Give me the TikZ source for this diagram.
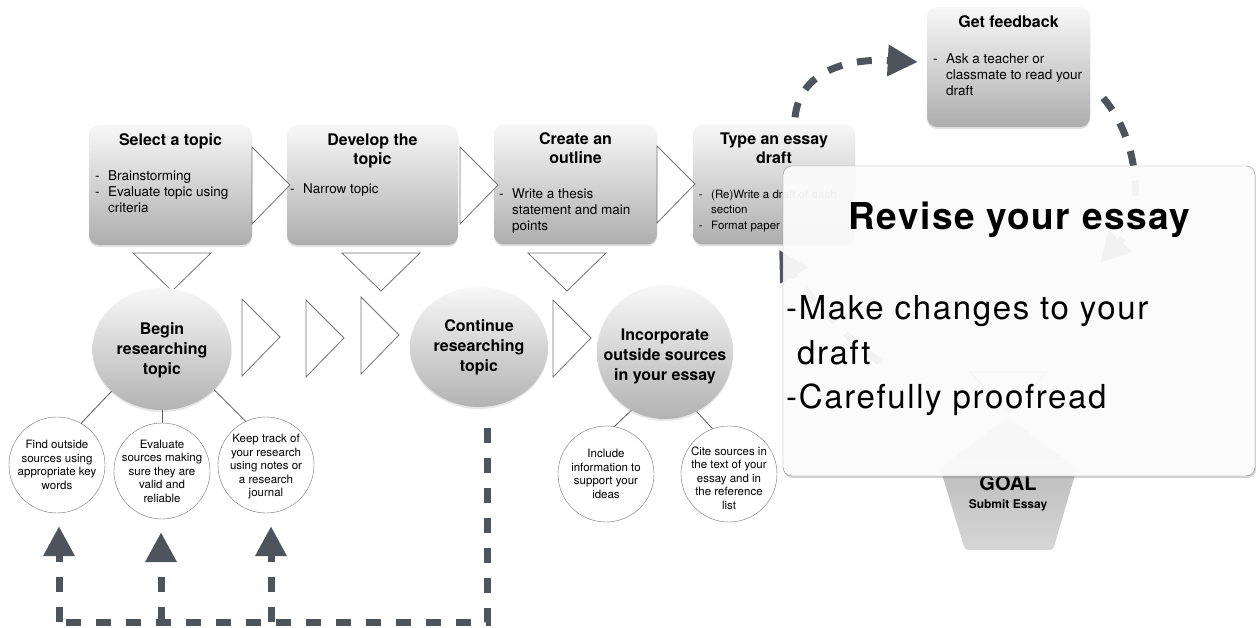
\documentclass[tikz,border=0pt]{standalone}
\usepackage{fontspec}
\setmainfont{TeX Gyre Heros}
\usetikzlibrary{shapes.geometric,shadows,arrows.meta}
\definecolor{dashgray}{RGB}{78,84,92}
\tikzset{
  stepbox/.style={rounded corners=10pt,top color=black!3,bottom color=black!32,draw=none,
    minimum height=120pt,inner sep=0pt,
    drop shadow={opacity=0.25,shadow xshift=0pt,shadow yshift=-2pt}},
  ttl/.style={font=\fontsize{16}{19}\selectfont\bfseries,align=center,anchor=north,inner sep=0pt},
  body/.style={font=\fontsize{13.5}{16}\selectfont,align=left,anchor=north west,inner sep=0pt},
  bub/.style={ellipse,top color=black!3,bottom color=black!30,draw=none,inner sep=0pt,
    drop shadow={opacity=0.2,shadow xshift=0pt,shadow yshift=-2pt}},
  bubtxt/.style={font=\fontsize{16}{20}\selectfont\bfseries,align=center,inner sep=0pt},
  leaf/.style={circle,draw=black!55,fill=white,minimum size=96pt,inner sep=0pt},
  leaftxt/.style={font=\fontsize{11.5}{13.5}\selectfont,align=center,inner sep=0pt},
  tri/.style={draw=black!55,fill=white,line width=0.8pt},
  twig/.style={draw=black!65,line width=0.8pt},
  fb/.style={dashgray,line width=7pt,dash pattern=on 15pt off 15pt},
  fbtip/.style={-{Triangle[length=30pt,width=30pt]}},
  revbox/.style={rounded corners=9pt,draw=black!45,fill=white,fill opacity=0.92,
    minimum width=472pt,minimum height=310pt,
    drop shadow={opacity=0.35,shadow xshift=1pt,shadow yshift=-2pt}}
}
\newcommand{\bl}{\llap{-\hspace{8.5pt}}}
\begin{document}
\begin{tikzpicture}[x=1pt,y=-1pt]
\useasboundingbox (0,0) rectangle (1256,628);

% stage boxes
\node[stepbox,minimum width=163pt] (sel) at (170.5,185) {};
\node[stepbox,minimum width=171pt] (dev) at (372.5,185) {};
\node[stepbox,minimum width=163pt] (out) at (575.5,184.5) {};
\node[stepbox,minimum width=162pt] (draft) at (774,184.5) {};
\node[stepbox,minimum width=163pt] (feed) at (1008.5,67) {};

\node[ttl] (selt) at ([yshift=-8.5pt]sel.north) {Select a topic};
\node[ttl] (devt) at ([yshift=-8.5pt]dev.north) {Develop the\\topic};
\node[ttl] (outt) at ([yshift=-8.5pt]out.north) {Create an\\outline};
\node[ttl] (draftt) at ([yshift=-8.5pt]draft.north) {Type an essay\\draft};
\node[ttl] (feedt) at ([yshift=-8.5pt]feed.north) {Get feedback};

\node[body] (selb) at (108,170.3) {\bl Brainstorming\\\bl Evaluate topic using\\criteria};
\node[body] (devb) at (303,183.3) {\bl Narrow topic};
\node[body] (outb) at (512,188.3) {\bl Write a thesis\\statement and main\\points};
\node[body,font=\fontsize{11.5}{15.5}\selectfont] (draftb) at (711,189.6)
  {\bl (Re)Write a draft of each\\section\\\bl Format paper};
\node[body] (feedb) at (946,53.3) {\bl Ask a teacher or\\classmate to read your\\draft};

% arrow triangles
\foreach \x/\y in {252/147,460/147,657/146,242/299,306/300,361/297,553/300}
  \draw[tri] (\x,\y) -- ++(38,38) -- ++(-38,39) -- cycle;
\foreach \x in {133,342,528}
  \draw[tri] (\x,253) -- ++(78,0) -- ++(-39,38) -- cycle;

% research bubbles
\node[bub,minimum width=139pt,minimum height=122pt] (begin) at (162,349) {};
\node[bub,minimum width=138pt,minimum height=120pt] (cont) at (479,347) {};
\node[bub,minimum width=136pt,minimum height=134pt] (incorp) at (665,352) {};
\node[bubtxt] (begint) at ([yshift=-1pt]begin.center) {Begin\\researching\\topic};
\node[bubtxt] (contt) at (cont) {Continue\\researching\\topic};
\node[bubtxt] (incorpt) at ([yshift=-4pt]incorp.center) {Incorporate\\outside sources\\in your essay};

\node[leaf] (find) at (57,465) {};
\node[leaf] (eval) at (162,471) {};
\node[leaf] (track) at (266,465) {};
\node[leaf] (incl) at (606,474) {};
\node[leaf] (cite) at (729,474) {};
\node[leaftxt] (findt) at (find) {Find outside\\sources using\\appropriate key\\words};
\node[leaftxt] (evalt) at (eval) {Evaluate\\sources making\\sure they are\\valid and\\reliable};
\node[leaftxt] (trackt) at ([yshift=-2pt]track.center) {Keep track of\\your research\\using notes or\\a research\\journal};
\node[leaftxt] (inclt) at (incl) {Include\\information to\\support your\\ideas};
\node[leaftxt] (citet) at ([yshift=-4pt]cite.center) {Cite sources in\\the text of your\\essay and in\\the reference\\list};

\draw[twig] (begin.220) -- (find.60);
\draw[twig] (begin.south) -- (eval.north);
\draw[twig] (begin.-38) -- (track.115);
\draw[twig] (incorp.240) -- (incl.80);
\draw[twig] (incorp.-62) -- (cite.110);

% keep researching loop
\coordinate (fbcorner) at (487,622);
\draw[fb] ([xshift=8pt,yshift=-21pt]cont.south) -- (fbcorner) -- ([xshift=-2pt]find.south |- fbcorner);
\foreach \lf/\dx in {find/2,eval/-1,track/5}
  \draw[fb,fbtip] ([xshift=\dx pt]\lf.south |- fbcorner) -- ([xshift=\dx pt,yshift=-13pt]\lf.south);

% revision cycle
\coordinate (revin) at (1100,263);
\coordinate (revout) at (880,362);
\draw[fb,fbtip] ([xshift=21pt,yshift=7pt]draft.north) .. controls +(84:48pt) and +(177:68pt) .. ([xshift=-9pt,yshift=5pt]feed.west);
\draw[fb,fbtip] ([xshift=13pt,yshift=-31pt]feed.east) .. controls +(-49:56pt) and +(47:66pt) .. (revin);
\draw[fb,fbtip] (revout) .. controls +(150:30pt) and +(-60:40pt) .. ([xshift=5pt,yshift=-5pt]draft.south);
\draw[tri] (970,372) -- (1047,372) -- (1008,412) -- cycle;

% goal
\shade[top color=black!32,bottom color=black!16,rounded corners=3pt]
  (1008,417) -- (1077,468) -- (1053,550) -- (965,550) -- (940,468) -- cycle;
\node[font=\fontsize{20}{20}\selectfont\bfseries,anchor=base] (goal) at (1008,490) {GOAL};
\node[font=\fontsize{12}{12}\selectfont\bfseries,anchor=base] (goalsub) at (1008,508) {Submit Essay};

% revise overlay
\node[revbox] (rev) at (1019,321) {};
\node[font=\fontsize{37}{40}\selectfont\bfseries\addfontfeature{LetterSpace=4},anchor=base] (revt) at (1019.5,230) {Revise your essay};
\node[font=\fontsize{33}{44.5}\selectfont\addfontfeature{LetterSpace=5},align=left,anchor=north west,inner sep=0pt] (revb) at (786,295.5)
  {-Make changes to your\\\hphantom{-}draft\\-Carefully proofread};
\end{tikzpicture}
\end{document}
